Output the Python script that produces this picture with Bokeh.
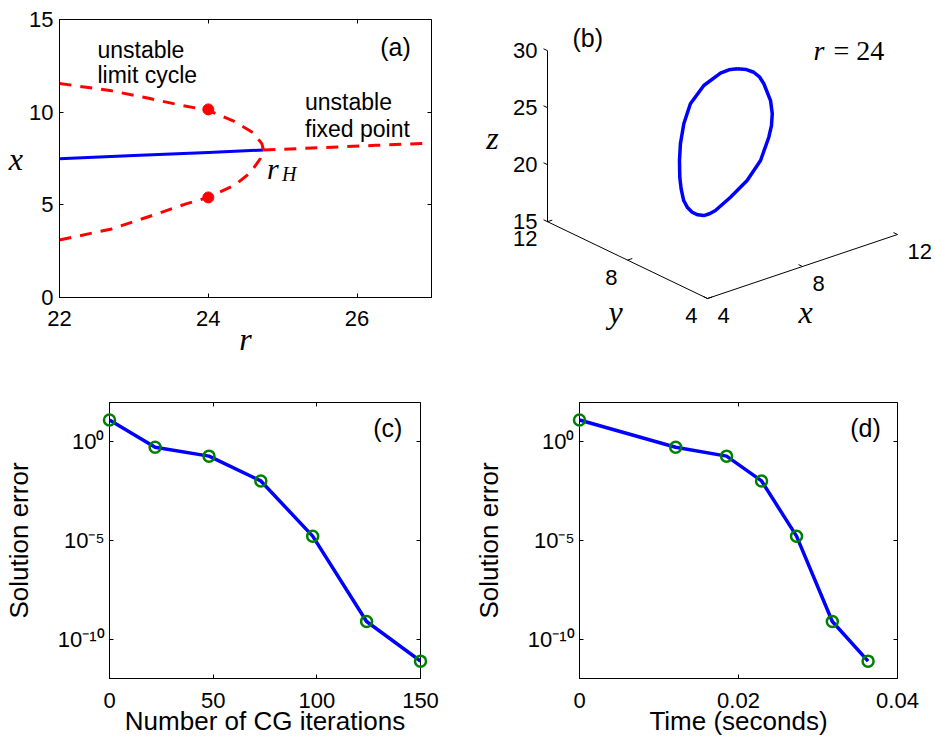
import numpy as np
from bokeh.plotting import figure
from bokeh.models import Range1d, FixedTicker, LinearAxis, Label
from bokeh.layouts import column, row
from bokeh.embed import file_html
from bokeh.resources import INLINE
from bokeh.core.properties import value

# ---------------- data: panel (a) bifurcation diagram ----------------
stable_r = [22.0, 23.0, 24.0, 24.74]
stable_x = [7.48, 7.66, 7.83, 7.96]
unstable_fp_r = [24.74, 25.5, 26.25, 27.0]
unstable_fp_x = [7.96, 8.08, 8.21, 8.33]
cycle_upper_r = [22.0, 22.7, 23.2, 23.6, 24.0, 24.35, 24.6, 24.72, 24.74]
cycle_upper_x = [11.55, 11.15, 10.75, 10.4, 10.1, 9.5, 8.9, 8.3, 7.96]
cycle_lower_r = [22.0, 22.7, 23.3, 23.7, 24.0, 24.35, 24.57, 24.7, 24.74]
cycle_lower_x = [3.1, 3.7, 4.5, 5.05, 5.4, 6.05, 6.75, 7.5, 7.96]
dot_r = [24.0, 24.0]
dot_x = [10.15, 5.4]
a_r_ticks = [22, 24, 26]
a_x_ticks = [0, 5, 10, 15]

# ---------------- data: panel (b) periodic orbit at r = 24 ----------------
orbit_x = [10.15, 10.12, 10.05, 9.93, 9.80, 9.40, 8.95, 8.68, 8.40, 7.80,
           7.20, 6.50, 5.90, 5.65, 5.45, 5.41, 5.40, 5.48, 5.60, 5.82,
           6.10, 6.45, 6.80, 7.60, 8.40, 9.20, 9.80, 10.02]
orbit_y = [9.82, 9.32, 8.87, 8.43, 8.07, 7.26, 6.64, 6.36, 6.16, 5.86,
           5.82, 5.82, 5.86, 5.86, 5.91, 6.16, 6.43, 6.77, 7.09, 7.48,
           7.88, 8.31, 8.68, 9.46, 10.08, 10.36, 10.24, 10.08]
orbit_z = [25.93, 26.31, 26.50, 26.52, 26.34, 25.83, 25.51, 24.90, 24.24, 22.87,
           21.57, 20.60, 19.82, 19.71, 19.65, 19.53, 19.54, 19.64, 19.87, 20.41,
           20.90, 21.76, 22.66, 23.20, 23.87, 24.68, 25.44, 25.72]
b_x_ticks = [4, 8, 12]
b_y_ticks = [4, 8, 12]
b_z_ticks = [15, 20, 25, 30]

# ---------------- data: panels (c), (d) convergence ----------------
cg_iters = [0, 22, 48, 73, 98, 124, 150]
time_sec = [0.0, 0.0121, 0.0185, 0.0229, 0.0273, 0.0318, 0.0363]
sol_error = [13.0, 0.54, 0.19, 0.0105, 1.66e-5, 7.8e-10, 7.6e-12]
c_x_ticks = [0, 50, 100, 150]
d_x_ticks = [0, 0.02, 0.04]
err_ticks = [1e-10, 1e-5, 1.0]
err_tick_labels = {1e-10: "10\u207b\u00b9\u2070", 1e-5: "10\u207b\u2075", 1.0: "10\u2070"}

SANS = "Liberation Sans"
SERIF = "Liberation Serif"
TICK_FS = "22px"


def no_align(p):
    if "frame_align" in p.properties():
        p.frame_align = False


def base_fig(w, h, xr, yr, left, right, top, bottom, ylog=False):
    p = figure(width=w, height=h, x_range=xr, y_range=yr,
               y_axis_type="log" if ylog else "linear",
               output_backend="svg", toolbar_location=None, tools="",
               min_border_left=left, min_border_right=right,
               min_border_top=top, min_border_bottom=bottom)
    no_align(p)
    p.background_fill_color = "white"
    p.border_fill_color = "white"
    p.grid.visible = False
    p.outline_line_color = "black"
    p.outline_line_width = 1
    return p


def style_axes(p, xticks, yticks, xstand=7, ystand=6, yoverrides=None, xoverrides=None):
    for ax, ticks, stand in ((p.below[0], xticks, xstand), (p.left[0], yticks, ystand)):
        ax.ticker = FixedTicker(ticks=ticks)
        ax.major_tick_in = 4
        ax.major_tick_out = 0
        ax.minor_tick_line_color = None
        ax.axis_line_color = "black"
        ax.major_tick_line_color = "black"
        ax.major_label_text_font = SANS
        ax.major_label_text_font_size = TICK_FS
        ax.major_label_text_color = "black"
        ax.axis_label_text_color = "black"
        ax.major_label_standoff = stand
    if yoverrides:
        p.left[0].major_label_overrides = yoverrides
    if xoverrides:
        p.below[0].major_label_overrides = xoverrides
    # mirrored tick marks on the top and right edges of the box (no labels)
    for ticks, side in ((xticks, "above"), (yticks, "right")):
        ax = LinearAxis(ticker=FixedTicker(ticks=ticks), major_label_text_font_size="1px",
                        major_label_text_color=None, major_label_standoff=0,
                        major_tick_in=4, major_tick_out=0,
                        minor_tick_line_color=None, axis_line_color=None)
        p.add_layout(ax, side)


def axis_title(ax, text, size, font=SANS, style="normal", standoff=5, horizontal=False):
    ax.axis_label = text
    ax.axis_label_text_font = font
    ax.axis_label_text_font_size = size
    ax.axis_label_text_font_style = style
    ax.axis_label_text_color = "black"
    ax.axis_label_standoff = standoff
    if horizontal and "axis_label_orientation" in ax.properties():
        ax.axis_label_orientation = "horizontal"


def lab(p, x, y, text, size, font=SANS, style="normal", align="left", baseline="middle"):
    p.add_layout(Label(x=x, y=y, text=text, text_font=font, text_font_size=size,
                       text_font_style=style, text_align=align, text_baseline=baseline,
                       text_color="black"))


# ---------------- panel (a) ----------------
pa = base_fig(467, 378, Range1d(22, 27), Range1d(0, 15), 59, 36, 19, 81)
style_axes(pa, a_r_ticks, a_x_ticks, xstand=13, ystand=6)
axis_title(pa.below[0], "r", "32px", font=SERIF, style="italic", standoff=-8)
axis_title(pa.left[0], "x", "32px", font=SERIF, style="italic", standoff=3, horizontal=True)
pa.line(stable_r, stable_x, line_color="blue", line_width=3)
pa.line(unstable_fp_r, unstable_fp_x, line_color="red", line_width=3, line_dash="12 9")
pa.line(cycle_upper_r, cycle_upper_x, line_color="red", line_width=3, line_dash="12 9")
pa.line(cycle_lower_r, cycle_lower_x, line_color="red", line_width=3, line_dash="12 9")
pa.scatter(dot_r, dot_x, marker="circle", size=11, fill_color="red", line_color="red")
lab(pa, 22.51, 13.33, "unstable", "23px", baseline="alphabetic")
lab(pa, 22.51, 12.03, "limit cycle", "23px", baseline="alphabetic")
lab(pa, 25.30, 10.54, "unstable", "23px", baseline="alphabetic")
lab(pa, 25.30, 9.07, "fixed point", "23px", baseline="alphabetic")
lab(pa, 26.31, 13.52, "(a)", "25px")
lab(pa, 24.79, 6.96, "r", "30px", font=SERIF, style="italic")
lab(pa, 24.99, 6.64, "H", "20px", font=SERIF, style="italic")

# ---------------- panel (b) ----------------
# fixed oblique view used to draw the 3-D axes box on a flat canvas
VIEW_ORIGIN = (4.0, 4.0, 15.0)
VX = (23.75, 8.0)
VY = (-20.0, 9.6)
VZ = (0.0, 11.4)


def proj(x, y, z):
    x = np.asarray(x, float) - VIEW_ORIGIN[0]
    y = np.asarray(y, float) - VIEW_ORIGIN[1]
    z = np.asarray(z, float) - VIEW_ORIGIN[2]
    sx = VX[0] * x + VY[0] * y + VZ[0] * z
    sy = VX[1] * x + VY[1] * y + VZ[1] * z
    return sx, sy


pb = figure(width=468, height=378, x_range=Range1d(-240, 228), y_range=Range1d(-80, 298),
            output_backend="svg", toolbar_location=None, tools="",
            x_axis_location=None, y_axis_location=None,
            min_border_left=0, min_border_right=0, min_border_top=0, min_border_bottom=0)
no_align(pb)
pb.outline_line_color = None
pb.grid.visible = False

xmin, xmax = min(b_x_ticks), max(b_x_ticks)
ymin, ymax = min(b_y_ticks), max(b_y_ticks)
zmin, zmax = min(b_z_ticks), max(b_z_ticks)
axes_xs, axes_ys = [], []


def seg(p0, p1):
    s0 = proj(*p0)
    s1 = proj(*p1)
    axes_xs.append([float(s0[0]), float(s1[0])])
    axes_ys.append([float(s0[1]), float(s1[1])])


seg((xmin, ymax, zmin), (xmin, ymax, zmax))
seg((xmin, ymax, zmin), (xmin, ymin, zmin))
seg((xmin, ymin, zmin), (xmax, ymin, zmin))
TL = 0.2
for zt in b_z_ticks:
    seg((xmin, ymax, zt), (xmin, ymax + TL, zt))
for yt in b_y_ticks:
    seg((xmin, yt, zmin), (xmin + TL, yt, zmin))
for xt in b_x_ticks:
    seg((xt, ymin, zmin), (xt, ymin + TL, zmin))
pb.multi_line(axes_xs, axes_ys, line_color="black", line_width=1)

# tick labels (canvas units of this panel are pixels)
zsx, zsy = proj([xmin] * len(b_z_ticks), [ymax] * len(b_z_ticks), b_z_ticks)
pb.text(x=zsx - 10, y=zsy, text=[str(t) for t in b_z_ticks], text_align="right",
        text_baseline="middle", text_font=value(SANS), text_font_size=TICK_FS, text_color="black")
ysx, ysy = proj([xmin] * len(b_y_ticks), b_y_ticks, [zmin] * len(b_y_ticks))
pb.text(x=ysx - 10, y=ysy - 17, text=[str(t) for t in b_y_ticks], text_align="right",
        text_baseline="middle", text_font=value(SANS), text_font_size=TICK_FS, text_color="black")
xsx, xsy = proj(b_x_ticks, [ymin] * len(b_x_ticks), [zmin] * len(b_x_ticks))
pb.text(x=xsx + 10, y=xsy - 17, text=[str(t) for t in b_x_ticks], text_align="left",
        text_baseline="middle", text_font=value(SANS), text_font_size=TICK_FS, text_color="black")

osx, osy = proj(orbit_x + orbit_x[:1], orbit_y + orbit_y[:1], orbit_z + orbit_z[:1])
pb.line(osx, osy, line_color="blue", line_width=3.5, line_join="round")

lab(pb, -215, 161, "z", "32px", font=SERIF, style="italic", align="center")
lab(pb, -92, -13, "y", "32px", font=SERIF, style="italic", align="center")
lab(pb, 98, -13, "x", "32px", font=SERIF, style="italic", align="center")
lab(pb, -135, 261, "(b)", "25px")
lab(pb, 106, 248, "r", "28px", font=SERIF, style="italic")
lab(pb, 126, 248, "= 24", "28px", font=SERIF)

# ---------------- panel (c) ----------------
pc = base_fig(467, 361, Range1d(0, 150), Range1d(1e-12, 1e2), 102, 47, 24, 61, ylog=True)
style_axes(pc, c_x_ticks, err_ticks, xstand=14, ystand=5, yoverrides=err_tick_labels)
axis_title(pc.below[0], "Number of CG iterations", "26px", standoff=-5)
axis_title(pc.left[0], "Solution error", "26px", standoff=21)
pc.line(cg_iters, sol_error, line_color="blue", line_width=3.5)
rc = pc.scatter(cg_iters, sol_error, marker="circle", size=11, fill_color=None,
                line_color="#008000", line_width=2.5)
rc.level = "overlay"
lab(pc, 127.2, 4.94, "(c)", "25px")

# ---------------- panel (d) ----------------
pd_ = base_fig(468, 361, Range1d(0, 0.04), Range1d(1e-12, 1e2), 112, 38, 24, 61, ylog=True)
style_axes(pd_, d_x_ticks, err_ticks, xstand=14, ystand=5, yoverrides=err_tick_labels,
           xoverrides={0: "0", 0.02: "0.02", 0.04: "0.04"})
axis_title(pd_.below[0], "Time (seconds)", "26px", standoff=-5)
axis_title(pd_.left[0], "Solution error", "26px", standoff=21)
pd_.line(time_sec, sol_error, line_color="blue", line_width=3.5)
rd = pd_.scatter(time_sec, sol_error, marker="circle", size=11, fill_color=None,
                 line_color="#008000", line_width=2.5)
rd.level = "overlay"
lab(pd_, 0.03406, 4.94, "(d)", "25px")

layout = column(row(pa, pb), row(pc, pd_))
open("out.html", "w").write(file_html(layout, INLINE))
